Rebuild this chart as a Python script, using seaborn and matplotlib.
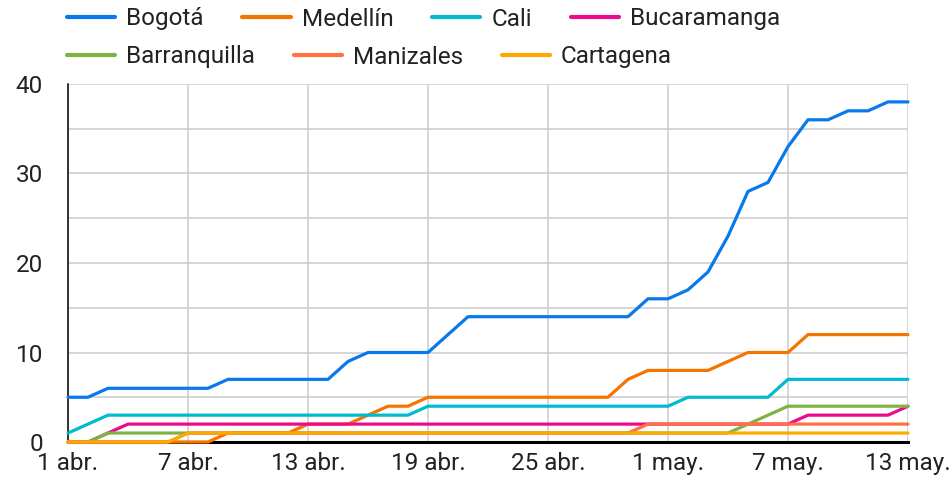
import matplotlib
matplotlib.use("Agg")
import matplotlib.pyplot as plt
import seaborn as sns
import pandas as pd
import numpy as np

# ---- data ----
dates = pd.date_range("2020-04-01", "2020-05-13", freq="D")
bogota       = [5,5,6,6,6,6,6,6,7,7,7,7,7,7,9,10,10,10,10,12,14,14,14,14,14,14,14,14,14,16,16,17,19,23,28,29,33,36,36,37,37,38,38]
medellin     = [0,0,0,0,0,0,0,0,1,1,1,1,2,2,2,3,4,4,5,5,5,5,5,5,5,5,5,5,7,8,8,8,8,9,10,10,10,12,12,12,12,12,12]
cali         = [1,2,3,3,3,3,3,3,3,3,3,3,3,3,3,3,3,3,4,4,4,4,4,4,4,4,4,4,4,4,4,5,5,5,5,5,7,7,7,7,7,7,7]
bucaramanga  = [0,0,1,2,2,2,2,2,2,2,2,2,2,2,2,2,2,2,2,2,2,2,2,2,2,2,2,2,2,2,2,2,2,2,2,2,2,3,3,3,3,3,4]
barranquilla = [0,0,1,1,1,1,1,1,1,1,1,1,1,1,1,1,1,1,1,1,1,1,1,1,1,1,1,1,1,1,1,1,1,1,2,3,4,4,4,4,4,4,4]
manizales    = [0,0,0,0,0,0,1,1,1,1,1,1,1,1,1,1,1,1,1,1,1,1,1,1,1,1,1,1,1,2,2,2,2,2,2,2,2,2,2,2,2,2,2]
cartagena    = [0,0,0,0,0,0,1,1,1,1,1,1,1,1,1,1,1,1,1,1,1,1,1,1,1,1,1,1,1,1,1,1,1,1,1,1,1,1,1,1,1,1,1]

cities = ["Bogotá", "Medellín", "Cali", "Bucaramanga", "Barranquilla", "Manizales", "Cartagena"]
series = [bogota, medellin, cali, bucaramanga, barranquilla, manizales, cartagena]
colors = ["#0779ED", "#F57400", "#00BAD0", "#EC0A8C", "#7CB342", "#FF7043", "#FFA800"]

tick_idx = [0, 6, 12, 18, 24, 30, 36, 42]
tick_labels = ["1 abr.", "7 abr.", "13 abr.", "19 abr.", "25 abr.", "1 may.", "7 may.", "13 may."]
y_ticks = [0, 10, 20, 30, 40]
y_minor = [5, 15, 25, 35]

df = pd.concat([pd.DataFrame({"day": np.arange(len(dates)), "value": s, "city": c})
                for c, s in zip(cities, series)], ignore_index=True)

sns.set_theme(style="white")
plt.rcParams["font.family"] = ["Roboto", "DejaVu Sans"]
text_color = "#222222"
fs = 17.5

fig = plt.figure(figsize=(9.52, 4.87), dpi=100)
ax = fig.add_axes([68/952, 45/487, 840/952, 358/487])

sns.lineplot(data=df, x="day", y="value", hue="city", hue_order=cities,
             palette=colors, linewidth=2.3, ax=ax, legend=True)
for ln in ax.lines:
    ln.set_clip_on(False)
    ln.set_zorder(3)
    ln.set_solid_joinstyle("round")

handles, labels = ax.get_legend_handles_labels()
ax.get_legend().remove()

ax.set_xlim(0, 42)
ax.set_ylim(0, 40)
ax.set_xticks(tick_idx)
ax.set_xticklabels(tick_labels)
ax.set_yticks(y_ticks)
ax.set_yticks(y_minor, minor=True)
ax.set_xlabel("")
ax.set_ylabel("")
ax.grid(True, which="both", color="#cccccc", linewidth=1.1)
ax.set_axisbelow(True)
ax.tick_params(axis="both", which="both", length=0, labelsize=fs, colors=text_color)
ax.tick_params(axis="y", pad=18)
ax.tick_params(axis="x", pad=7)

for s in ["top", "right"]:
    ax.spines[s].set_visible(False)
ax.spines["left"].set_color("black")
ax.spines["left"].set_linewidth(1.1)
ax.spines["bottom"].set_color("black")
ax.spines["bottom"].set_linewidth(2.2)

for h in handles:
    h.set_linewidth(3)

common = dict(frameon=False, fontsize=fs, handlelength=1.98, handletextpad=0.45,
              columnspacing=1.6, labelcolor=text_color, borderaxespad=0, borderpad=0)
leg1 = fig.legend(handles[:4], labels[:4], ncol=4, loc="center left",
                  bbox_to_anchor=(67/952, 1 - 19/487), **common)
leg2 = fig.legend(handles[4:], labels[4:], ncol=3, loc="center left",
                  bbox_to_anchor=(67/952, 1 - 57/487), **common)

fig.savefig("out.png", dpi=100, facecolor="white")
